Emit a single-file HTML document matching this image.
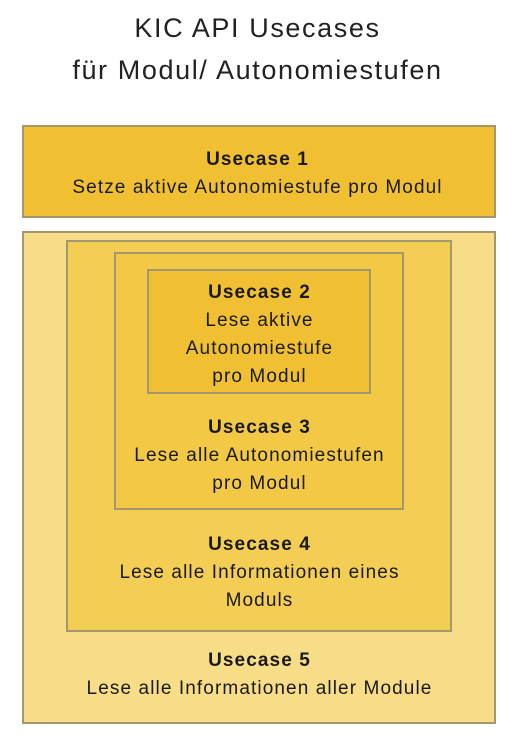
<!DOCTYPE html>
<html><head><style>
body{margin:0;width:515px;height:742px;background:#fff;font-family:"Liberation Sans",sans-serif;color:#1a1a1a;position:relative;overflow:hidden}
.b{position:absolute;box-sizing:border-box;border:2px solid #a39770}
.t{position:absolute;left:0;width:515px;text-align:center;font-size:19px;line-height:28px;letter-spacing:1.1px}
b{font-weight:bold}
</style></head><body>
<div class="t" style="top:7px;font-size:27px;line-height:42px;color:#222;letter-spacing:1.6px">KIC API Usecases<br>für Modul/ Autonomiestufen</div>
<div class="b" style="left:22px;top:125px;width:474px;height:93px;background:#f0c032"></div>
<div class="b" style="left:22px;top:231px;width:474px;height:493px;background:#f7dd88"></div>
<div class="b" style="left:66px;top:240px;width:386px;height:392px;background:#f4cd55"></div>
<div class="b" style="left:114px;top:252px;width:290px;height:258px;background:#f3c845"></div>
<div class="b" style="left:147px;top:269px;width:224px;height:125px;background:#f0c032"></div>
<div class="t" style="top:146px"><b>Usecase 1</b><br>Setze aktive Autonomiestufe pro Modul</div>
<div class="t" style="top:279px;left:2px"><b>Usecase 2</b><br>Lese aktive<br>Autonomiestufe<br>pro Modul</div>
<div class="t" style="top:414px;left:2px"><b>Usecase 3</b><br>Lese alle Autonomiestufen<br>pro Modul</div>
<div class="t" style="top:531px;left:2px"><b>Usecase 4</b><br>Lese alle Informationen eines<br>Moduls</div>
<div class="t" style="top:647px;left:2px"><b>Usecase 5</b><br>Lese alle Informationen aller Module</div>
</body></html>
